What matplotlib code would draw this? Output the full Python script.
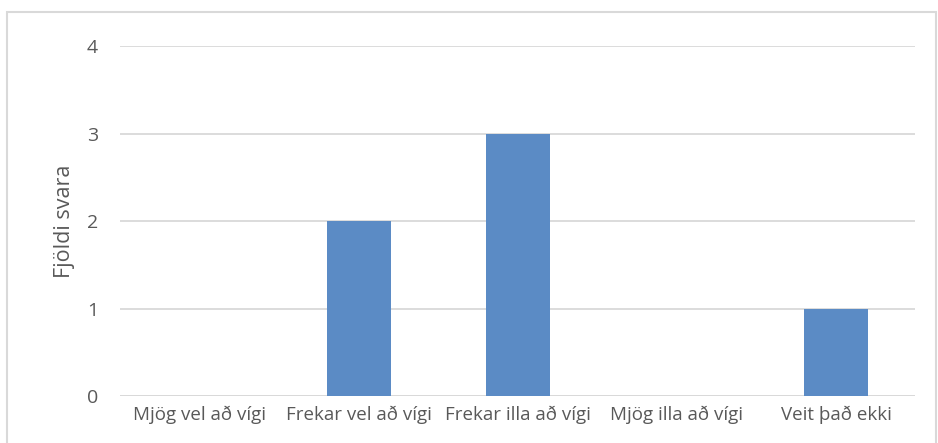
import matplotlib.pyplot as plt
from matplotlib.patches import Rectangle

# ---------------- DATA ----------------
categories = [
    "Mjög vel að vígi",
    "Frekar vel að vígi",
    "Frekar illa að vígi",
    "Mjög illa að vígi",
    "Veit það ekki",
]
counts = [0, 2, 3, 0, 1]
yticks = [0, 1, 2, 3, 4]

# ---------------- PLOT ----------------
plt.rcParams["font.family"] = ["Open Sans", "DejaVu Sans"]
text_color = "#595959"
grid_color = "#D9D9D9"

fig = plt.figure(figsize=(9.38, 4.43), dpi=100)
ax = fig.add_axes([0.128, 0.106, 0.848, 0.79])

x = range(len(categories))
ax.bar(x, counts, width=0.4, color="#5B8BC5", zorder=3)

ax.set_xlim(-0.5, len(categories) - 0.5)
ax.set_ylim(0, 4)
ax.set_yticks(yticks)
ax.set_xticks(list(x))
ax.set_xticklabels(categories)

ax.grid(axis="y", color=grid_color, linewidth=1.3, zorder=0)
ax.axhline(0, color=grid_color, linewidth=1.3, zorder=2)
for s in ax.spines.values():
    s.set_visible(False)
ax.tick_params(length=0, colors=text_color)
ax.tick_params(axis="y", pad=16, labelsize=14)
ax.tick_params(axis="x", pad=7, labelsize=13.5)
ax.set_ylabel("Fjöldi svara", color=text_color, fontsize=15.5, labelpad=8)

# outer chart border
fig.patches.append(Rectangle((0.0075, -0.02), 0.99, 0.993, transform=fig.transFigure,
                             fill=False, edgecolor="#D9D9D9", linewidth=1.5))

plt.savefig("out.png", dpi=100)
plt.close()
